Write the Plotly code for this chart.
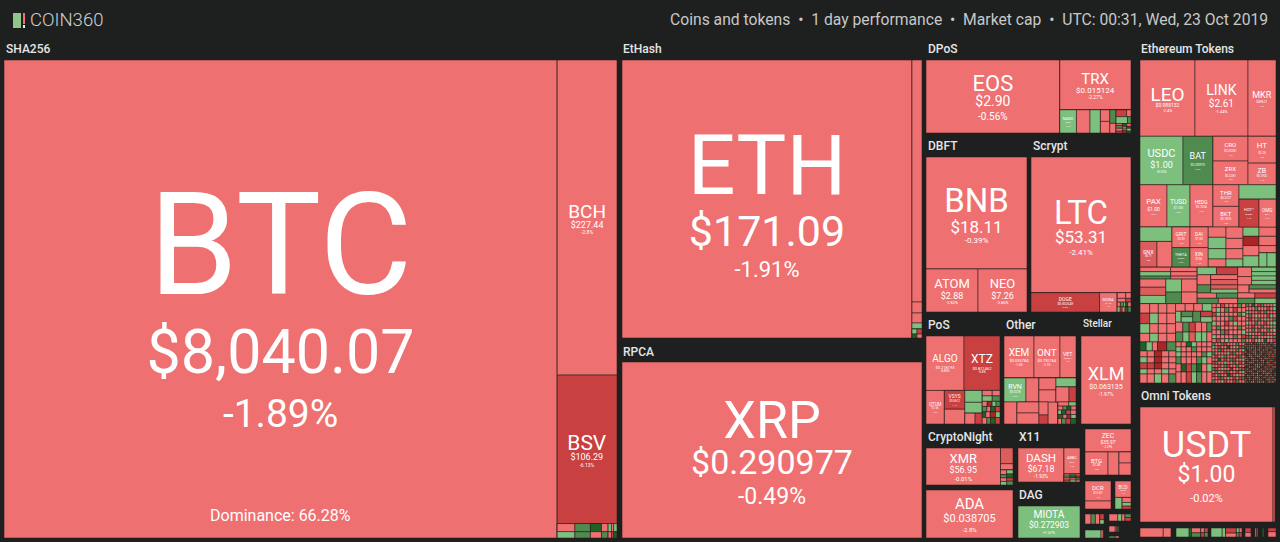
import plotly.graph_objects as go

WIDTH, HEIGHT = 1280, 542
BG = "#1e2020"
COLORS = {
    "r": "#ef7070",
    "m": "#dd5c5c",
    "d": "#c94040",
    "D": "#a82626",
    "g": "#7dc07d",
    "G": "#4f8a4f",
    "K": "#1f6129",
}


def strip(colors, widths, height):
    # one row (or column) of small tiles: colour letters + widths, all one height
    if isinstance(widths, int):
        widths = [widths] * len(colors)
    elif isinstance(widths, str):
        widths = [int(w) for w in widths]
    return [(w * height, c) for w, c in zip(widths, colors)]


# coins that carry a label
coin_names = ["BTC", "BCH", "BSV", "ETH", "XRP", "EOS", "TRX", "NANO", "BNB", "ATOM", "NEO", "LTC", "DOGE", "MONA",
              "ALGO", "XTZ", "QTUM", "VSYS", "XEM", "ONT", "VET", "RVN", "XLM", "XMR", "ADA", "DASH", "ABBC", "MIOTA",
              "ZEC", "BTG", "DCR", "BCD", "LEO", "LINK", "MKR", "USDC", "BAT", "CRO", "ZRX", "HT", "ZB", "PAX", "TUSD",
              "HEDG", "THR", "BKT", "HOT*", "OMG", "SNX", "GRIT", "DAI", "THETA", "XIN", "USDT"]
coin_prices = ["$8,040.07", "$227.44", "$106.29", "$171.09", "$0.290977", "$2.90", "$0.015124", "$0.83", "$18.11",
               "$2.88", "$7.26", "$53.31", "$0.002649", "$1.45", "$0.218193", "$0.821462", "$1.56", "$0.0612",
               "$0.035784", "$0.792764", "$0.0031", "$0.0278", "$0.063135", "$56.95", "$0.038705", "$67.18", "$0.10",
               "$0.272903", "$35.97", "$7.48", "$13.87", "$0.55", "$0.988132", "$2.61", "$498.21", "$1.00",
               "$0.200975", "$0.03281", "$0.2281", "$3.25", "$0.2902", "$1.00", "$1.00", "$0.7034", "$0.3227",
               "$0.1875", "$0.0004", "$0.71", "$0.71", "$0.09", "$1.00", "$0.0896", "$156", "$1.00"]
coin_changes = ["-1.89%", "-2.8%", "-6.13%", "-1.91%", "-0.49%", "-0.56%", "-2.27%", "+1.2%", "-0.39%", "-3.82%",
                "-3.86%", "-2.41%", "-6.2%", "-1.4%", "-4.85%", "-6.8%", "-2.2%", "-7.1%", "-1.4%", "-2.1%", "-1.9%",
                "+2.3%", "-1.97%", "-0.01%", "-2.8%", "-1.93%", "-1.2%", "+1.67%", "-2.29%", "-1.8%", "-1.4%", "-1.6%",
                "-2.4%", "-1.44%", "-1.3%", "+0.05%", "+6.2%", "-1.7%", "-2.2%", "-1.5%", "-1.1%", "-0.4%", "+0.2%",
                "-1.6%", "-1.2%", "-1.9%", "-7.4%", "-2.1%", "-5.8%", "-1.3%", "-0.3%", "+7.3%", "-1.4%", "-0.02%"]

# name, price, change font sizes, then the two baseline gaps
label_fonts = {
    "BTC": (143, 61, 39, 79, 55), "BCH": (19, 9, 5, 11, 6), "BSV": (21, 9, 5, 11, 6), "ETH": (84, 43, 22, 52, 31),
    "XRP": (52, 34, 23, 37, 30), "EOS": (22, 14, 10, 15, 14), "TRX": (15, 8, 5, 9, 7), "NANO": (4, 2, 2, 3, 2),
    "BNB": (33, 17, 8, 21, 11), "ATOM": (13, 9, 4, 9, 5), "NEO": (13, 9, 4, 9, 5), "LTC": (33, 17, 8, 20, 12),
    "DOGE": (6, 4, 3, 4, 4), "MONA": (5, 3, 2, 3, 3), "ALGO": (10, 4, 3, 6, 4), "XTZ": (12, 4, 3, 7, 4),
    "QTUM": (5, 3, 2, 3, 3), "VSYS": (5, 3, 2, 3, 3), "XEM": (10, 4, 3, 6, 4), "ONT": (10, 4, 3, 6, 4),
    "VET": (7, 3, 2, 3, 3), "RVN": (7, 3, 2, 3, 3), "XLM": (18, 7, 5, 9, 5), "XMR": (13, 9, 6, 9, 8),
    "ADA": (15, 11, 6, 10, 9), "DASH": (12, 9, 5, 9, 6), "ABBC": (4, 2, 2, 3, 2), "MIOTA": (11, 9, 4, 8, 6),
    "ZEC": (7, 5, 3, 5, 4), "BTG": (6, 3, 2, 3, 3), "DCR": (6, 3, 2, 3, 3), "BCD": (6, 3, 2, 3, 3),
    "LEO": (19, 5, 4, 7, 5), "LINK": (14, 10, 4, 9, 6), "MKR": (9, 3, 2, 5, 3), "USDC": (11, 9, 3, 8, 5),
    "BAT": (9, 3, 2, 6, 3), "CRO": (6, 3, 2, 5, 3), "ZRX": (6, 3, 2, 5, 3), "HT": (8, 3, 2, 6, 3),
    "ZB": (7, 3, 2, 4, 3), "PAX": (8, 5, 2, 7, 3), "TUSD": (7, 4, 2, 4, 3), "HEDG": (5, 3, 2, 3, 3),
    "THR": (6, 3, 2, 4, 3), "BKT": (6, 3, 2, 4, 3), "HOT*": (4, 2, 2, 3, 2), "OMG": (5, 2, 2, 3, 2),
    "SNX": (6, 3, 2, 4, 3), "GRIT": (5, 3, 2, 3, 3), "DAI": (5, 3, 2, 3, 3), "THETA": (4, 2, 2, 3, 2),
    "XIN": (5, 3, 2, 3, 3), "USDT": (36, 23, 11, 24, 20),
}

# market cap tiles, each nesting level flips the split direction
sha256_tiles = [
    (264334, "r", "BTC"),
    [
        (18840, "r", "BCH"),
        (8880, "d", "BSV"),
        [
            [(144, "r"), (112, "g")],
            [(126, "G"), (98, "G")],
            [(90, "K"), (70, "r")],
            [(54, "r"), (42, "G")],
            [strip("grg", "323", 9), strip("rdK", "323", 7)],
        ],
    ],
]
ethash_tiles = [
    (80620, "r", "ETH"),
    [
        (2420, "r"),
        (110, "r"),
        (100, "r"),
        (60, "g"),
        [[(25, "g"), (20, "K")], [(25, "d"), (20, "r")]],
    ],
]
rpca_tiles = [(52800, "r", "XRP")]
dpos_tiles = [
    (9709, "r", "EOS"),
    [
        (3528, "r", "TRX"),
        [
            (384, "g", "NANO"),
            (312, "r"),
            (240, "g"),
            [(108, "r"), (108, "r")],
            [(84, "G"), (60, "r")],
            [
                [(72, "d"), (30, "r")],
                [(78, "g"), (24, "G")],
                [strip("rGrd", "2332", 6), strip("KrgD", "3223", 4), strip("rDgK", "3232", 4)],
            ],
        ],
    ],
]
dbft_tiles = [[(11312, "r", "BNB"), [(2236, "r", "ATOM"), (2107, "r", "NEO")]]]
scrypt_tiles = [
    [
        (13500, "r", "LTC"),
        [
            (1320, "d", "DOGE"),
            (340, "r", "MONA"),
            [strip("rr", "85", 6), strip("rd", "85", 4), strip("rGgKr", "33223", 5), strip("gdrKG", "32333", 5)],
        ],
    ],
]
pos_tiles = [
    [
        [(2052, "r", "ALGO"), (1944, "d", "XTZ")],
        [
            (612, "r", "QTUM"),
            [(380, "d", "VSYS"), (300, "r")],
            [(204, "g"), (187, "g"), [(110, "r"), (77, "d")]],
            [
                strip("rr", "97", 6),
                strip("gG", "97", 6),
                strip("rDgG", "5544", 5),
                strip("GrKd", "5455", 5),
                strip("KrDg", "4565", 5),
                strip("rGKd", "5455", 6),
            ],
        ],
    ],
]
other_tiles = [
    [
        [(1260, "r", "XEM"), (1092, "r", "ONT"), (672, "r", "VET")],
        [
            [
                [(528, "g", "RVN"), (312, "r")],
                [(286, "r"), [(242, "r"), (242, "r")]],
            ],
            [
                [
                    [(204, "r"), (204, "r")],
                    [(180, "g"), [(195, "r"), (105, "d")]],
                ],
                [
                    [(117, "r"), (81, "d")],
                    (220, "r"),
                    [
                        strip("rg", "96", 5),
                        strip("rGKr", "5445", 4),
                        strip("gKdr", "4556", 4),
                        strip("KrDg", "5445", 4),
                        strip("rGdK", "4556", 5),
                    ],
                ],
            ],
        ],
    ],
]
stellar_tiles = [(4400, "r", "XLM")]
cryptonight_tiles = [
    (2738, "r", "XMR"),
    [
        (195, "m"),
        (78, "r"),
        [[(28, "r"), (20, "G")], [(25, "g"), (25, "K")]],
        [[(22, "r"), (22, "g")], [(20, "d"), (24, "G")]],
    ],
]
cardano_tiles = [(4176, "r", "ADA")]
x11_tiles = [
    (1564, "r", "DASH"),
    [
        (416, "r", "ABBC"),
        [strip("rGrd", "4444", 3), strip("GKrg", "4444", 3), strip("rDGr", "4444", 2)],
    ],
]
dag_tiles = [(1984, "g", "MIOTA")]
zec_tiles = [
    [
        (1058, "r", "ZEC"),
        [(529, "r", "BTG"), (253, "r"), [(132, "r"), (144, "r")]],
    ],
]
dcr_tiles = [[(520, "r", "DCR"), (208, "r")]]
bcd_tiles = [
    [
        (288, "r", "BCD"),
        [(90, "g"), [(49, "r"), (35, "g"), (28, "d")]],
    ],
]
tiny_a_tiles = [(60, "r"), (44, "G"), (44, "r"), [(24, "d"), (18, "g")]]
tiny_b_tiles = [(70, "r"), (32, "g"), (26, "r"), [(24, "G"), (24, "d")]]
tiny_c_tiles = [(40, "r"), (10, "r"), (8, "d"), (6, "G")]
tiny_d_tiles = [(128, "g"), (18, "r"), (6, "K")]
tiny_e_tiles = [(8, "G"), (5, "r")]

# dense tail of the ethereum tokens, read row by row
eth_tail_a = [
    strip("rrrr", "9888", 10),
    strip("dgrr", "9888", 11),
    strip("grrr", "9888", 10),
    strip("rgrr", "9888", 9),
]
eth_tail_b = [
    strip("rrrg", "9889", 8),
    [(60, "g"), [(60, "G"), (60, "g")], (84, "G"), [(60, "d"), (60, "g")]],
    strip("rGdrrG", "766655", 10),
    strip("Ggmggr", "766655", 10),
]
eth_tail_c = [
    strip("KgrDG", "66599", 9),
    strip("rrDrr", "77777", 6),
    strip("grDrr", "77777", 6),
    strip("ddDrr", "77777", 6),
    strip("grrgr", "77777", 5),
    strip("rrgrG", "77777", 9),
]
eth_tail_d = [
    strip("rrKgrrr", "5555555", 5),
    strip("grrGrrr", "5555555", 5),
    strip("grrrrGg", "5555555", 5),
    strip("GrrrGgr", "5555555", 7),
    strip("rKdGKrg", "5555555", 8),
    strip("rrdgGrr", "5555555", 11),
]
eth_tail_e = [
    strip("rrdrrrGr", 4, 4),
    strip("rgrGrdrr", 4, 5),
    strip("dgrrrrGg", 4, 4),
    strip("rrrrGdrr", 4, 5),
    strip("grrdrgrr", 4, 5),
    strip("rGrrrrGr", 4, 4),
    strip("rrGdrrrg", 4, 5),
    strip("grrrrGrd", 4, 4),
    strip("rdrgrrrG", 4, 4),
]
eth_tail_f = [
    strip("GrKrdGrrrg", 3, 3),
    strip("rrrGrrrdrg", 3, 4),
    strip("grrrdrGrrr", 3, 3),
    strip("rGrgrrrdgr", 3, 4),
    strip("rdrrGrgrrG", 3, 3),
    strip("grrGrrdrgg", 3, 4),
    strip("rrdrrGrrgr", 3, 3),
    strip("rrGrdrrGrg", 3, 4),
    strip("rgrrrGdrrr", 3, 3),
    strip("dGrGrrrgrG", 3, 3),
    strip("rrdrgrKrrd", 3, 4),
]
eth_tail_g = [
    strip("GrrGdrrrGrr", 3, 3),
    strip("grdrrKrgrdG", 3, 3),
    strip("rrGdrrrrGrg", 3, 3),
    strip("GrrrrgdGrrd", 3, 3),
    strip("rdrgGrrrdGr", 3, 3),
    strip("rrKrdrGdrrg", 3, 3),
    strip("dGrrgrrGrdr", 3, 3),
    strip("rrdrGdrrGrr", 3, 3),
    strip("GdrgrrDrrGd", 3, 3),
    strip("rGrrdGrrdrg", 3, 3),
    strip("drGrrKdrgrr", 3, 3),
    strip("rrdGrgrdrdG", 3, 3),
    strip("GrrgdrrdGrr", 3, 3),
]
eth_tail_h = [
    strip("GdGrKdGrdgrGDrGg", 2, 2),
    strip("rGrdrGdGrdgGrDGr", 2, 2),
    strip("DrGgdrKrGDdrGrdK", 2, 2),
    strip("GKrdGrdgDrGrKdGr", 2, 2),
    strip("rDdGrgKdrGdGrgDr", 2, 2),
    strip("KGrdGrdGrKdGrdrG", 2, 2),
    strip("dKgrDGrrDdGKrdrG", 2, 2),
    strip("rGDrrdKGrDgrGdGD", 2, 2),
    strip("GrKdrGrKrgDdGrGK", 2, 2),
    strip("DGrgrKdGdrKgrDdr", 2, 2),
    strip("rGdKDrgGrdDGrrGD", 2, 2),
    strip("KDrGdGrgDKrdGDrr", 2, 2),
    strip("GrKDrgdKrDGrdrGK", 2, 2),
    strip("dGrrDKGrdgrDGrKD", 2, 2),
    strip("rKDGrdgKDrGgrdDG", 2, 2),
    strip("KrGdrDrGrKdgDrKG", 2, 2),
    strip("DGrKdrgGDGrKrdgD", 2, 2),
    strip("rKgDrGdrGDKrgdGr", 2, 2),
    strip("GdKrgDGrdgKDrGrK", 2, 2),
]
eth_tiles = [
    [
        [(4070, "r", "LEO"), (3922, "r", "LINK"), (2072, "r", "MKR")],
        [
            (2021, "g", "USDC"),
            (1410, "G", "BAT"),
            [(840, "r", "CRO"), (805, "r", "ZRX")],
            [(728, "r", "HT"), (588, "r", "ZB")],
        ],
        [
            (1107, "r", "PAX"),
            (943, "g", "TUSD"),
            (943, "r", "HEDG"),
            [(546, "r", "THR"), (520, "r", "BKT")],
            [(518, "g"), [(540, "d", "HOT*"), (459, "r", "OMG")]],
        ],
        [
            [(448, "g"), [(425, "m", "SNX"), (375, "r")]],
            [
                [(360, "r", "GRIT"), (360, "r", "DAI")],
                [(342, "G", "THETA"), (342, "r", "XIN")],
            ],
            [(180, "r"), (198, "g"), (180, "g"), (144, "r")],
            [(187, "r"), (170, "r"), (170, "r"), (136, "g")],
            [(144, "g"), (144, "D"), (160, "r"), (176, "g")],
            [(153, "r"), (153, "r"), (119, "r"), [(112, "g"), (126, "g")]],
        ],
        [
            [
                [strip("rgG", "664", 22), strip("rrr", "664", 19)],
                [strip("rmg", "333", 19 * 3.6), strip("gG", "98", 11 * 2), strip("rr", "98", 11 * 2)],
            ],
            [
                [
                    [[(140, "g"), (154, "d")], [(133, "r"), [(126, "r"), (140, "m")]],
                     [(105, "G"), [(112, "m"), (98, "g")]], [(100, "r"), (110, "G")], [(110, "G"), (100, "r")]],
                    [
                        [strip("rr", "98", 7 * 2), strip("gggg", 8, 13)],
                        [(90, "r"), [(112, "G"), (98, "r")]],
                        [(90, "r"), (110, "d")],
                        [(90, "G"), (110, "g")],
                    ],
                ],
            ],
        ],
        [
            [
                [eth_tail_a, eth_tail_b],
                [eth_tail_c, eth_tail_d],
            ],
            [
                [eth_tail_e, eth_tail_f],
                [eth_tail_g, eth_tail_h],
            ],
        ],
    ],
]
omni_tiles = [(15525, "r", "USDT"), (230, "m")]
omni_a_tiles = [(216, "r"), (72, "r")]
omni_b_tiles = [(110, "g"), (20, "K"), [(42, "r"), (36, "G")], [strip("rd", "33", 5), strip("dG", "33", 5)]]
omni_c_tiles = [(120, "g"), (36, "g"), [(66, "d"), (50, "r")], [strip("gr", "33", 5), strip("Gd", "33", 5)]]
omni_d_tiles = [[(24, "d"), (24, "r")]]
omni_e_tiles = [(10, "r"), (8, "d")]
omni_f_tiles = [(10, "K"), (6, "G")]
omni_g_tiles = [[(30, "d"), (42, "r")]]

# panel corners in pixels: x0, y0, x1, y1
panels = [
    (sha256_tiles, (4, 60, 617, 538)),
    (ethash_tiles, (622, 60, 922, 338)),
    (rpca_tiles, (622, 362, 922, 538)),
    (dpos_tiles, (926, 60, 1131, 133)),
    (dbft_tiles, (926, 157, 1027, 312)),
    (scrypt_tiles, (1031, 157, 1131, 312)),
    (pos_tiles, (926, 336, 1000, 424)),
    (other_tiles, (1004, 336, 1076, 424)),
    (stellar_tiles, (1081, 336, 1131, 424)),
    (cryptonight_tiles, (926, 448, 1013, 485)),
    (cardano_tiles, (926, 490, 1013, 538)),
    (x11_tiles, (1018, 448, 1080, 482)),
    (dag_tiles, (1018, 506, 1080, 538)),
    (zec_tiles, (1085, 429, 1131, 475)),
    (dcr_tiles, (1085, 481, 1111, 509)),
    (bcd_tiles, (1115, 481, 1131, 509)),
    (tiny_a_tiles, (1085, 514, 1104, 524)),
    (tiny_b_tiles, (1109, 514, 1131, 521)),
    (tiny_c_tiles, (1109, 526, 1119, 532)),
    (tiny_d_tiles, (1085, 530, 1104, 538)),
    (tiny_e_tiles, (1109, 536, 1119, 538)),
    (eth_tiles, (1140, 60, 1276, 383)),
    (omni_tiles, (1140, 407, 1275, 522)),
    (omni_a_tiles, (1140, 528, 1171, 537)),
    (omni_b_tiles, (1176, 528, 1208, 537)),
    (omni_c_tiles, (1211, 528, 1242, 537)),
    (omni_d_tiles, (1245, 528, 1251, 537)),
    (omni_e_tiles, (1255, 528, 1258, 537)),
    (omni_f_tiles, (1262, 528, 1264, 537)),
    (omni_g_tiles, (1268, 528, 1276, 537)),
]

# group captions: text, x, y, size
captions = [
    ("SHA256", 4, 49, 12), ("EtHash", 621, 49, 12), ("RPCA", 621, 352, 12), ("DPoS", 926, 49, 12),
    ("Ethereum Tokens", 1139, 49, 12), ("DBFT", 926, 146, 12), ("Scrypt", 1031, 146, 12), ("PoS", 926, 325, 12),
    ("Other", 1004, 325, 12), ("Stellar", 1081, 323, 10), ("CryptoNight", 926, 437, 12), ("X11", 1017, 437, 12),
    ("DAG", 1017, 495, 12), ("Omni Tokens", 1139, 396, 12),
]

# blank lines of this height set the gap between the three label lines
LINE_PX = 1.3


def px(x):
    return x / WIDTH


def py(y):
    return 1 - y / HEIGHT


def label_text(name):
    i = coin_names.index(name)
    s1, s2, s3, g1, g2 = label_fonts[name]
    # keep lines from touching on the small tiles
    g1 = max(g1, s2 + 1.5)
    g2 = max(g2, s3 + 1.5)
    return (
        f'<span style="font-size:{s1}px">{name}</span>' + "<br>" * round(g1 / LINE_PX)
        + f'<span style="font-size:{s2}px">{coin_prices[i]}</span>' + "<br>" * round(g2 / LINE_PX)
        + f'<span style="font-size:{s3}px">{coin_changes[i]}</span>'
    )


def flatten(tiles, parent, rows):
    for node in tiles:
        node_id = f"{parent}.{len(rows)}"
        if isinstance(node, list):
            rows.append((node_id, parent, 0, BG, ""))
            flatten(node, node_id, rows)
        else:
            text = label_text(node[2]) if len(node) > 2 else ""
            rows.append((node_id, parent, node[0], COLORS[node[1]], text))


fig = go.Figure()
for tiles, (x0, y0, x1, y1) in panels:
    rows = [("root", "", 0, BG, "")]
    flatten(tiles, "root", rows)
    fig.add_trace(
        go.Treemap(
            ids=[r[0] for r in rows],
            labels=[r[0] for r in rows],
            parents=[r[1] for r in rows],
            values=[r[2] for r in rows],
            text=[r[4] for r in rows],
            textinfo="text",
            textposition="middle center",
            textfont=dict(family="Roboto", color="white", size=1),
            branchvalues="remainder",
            sort=False,
            hoverinfo="skip",
            tiling=dict(packing="slice-dice", pad=0),
            pathbar=dict(visible=False),
            marker=dict(
                colors=[r[3] for r in rows],
                line=dict(color="rgba(40,30,30,0.55)", width=1),
                pad=dict(t=0, l=0, r=0, b=0),
                depthfade=False,
            ),
            domain=dict(x=[px(x0), px(x1)], y=[py(y1), py(y0)]),
        )
    )

annotations = [
    dict(text=t, x=px(x), y=py(y), xref="paper", yref="paper", xanchor="left", yanchor="middle", showarrow=False,
         font=dict(family="Roboto", size=s, color="#e6e6e6", weight=500))
    for t, x, y, s in captions
]
annotations.append(
    dict(text="Dominance: 66.28%", x=px(280), y=py(515), xref="paper", yref="paper", xanchor="center",
         yanchor="middle", showarrow=False, font=dict(family="Roboto", size=16, color="white"))
)
annotations.append(
    dict(text="COIN360", x=px(28), y=py(20), xref="paper", yref="paper", xanchor="left", yanchor="middle",
         showarrow=False, font=dict(family="Roboto", size=18.5, color="#cfcfcf", weight=300))
)
annotations.append(
    dict(text="Coins and tokens  •  1 day performance  •  Market cap  •  UTC: 00:31, Wed, 23 Oct 2019",
         x=px(1270), y=py(20), xref="paper", yref="paper", xanchor="right", yanchor="middle", showarrow=False,
         font=dict(family="Roboto", size=15.7, color="#c8c8c8"))
)

# logo blocks
logo = [(13, 13, 21, 28, "#8fc78a"), (23, 13, 25, 24, "#ef7070"), (23, 25, 25, 28, "#e8e8e8")]
shapes = [
    dict(type="rect", xref="paper", yref="paper", x0=px(a), x1=px(c), y0=py(b), y1=py(d), fillcolor=col, line_width=0)
    for a, b, c, d, col in logo
]

fig.update_layout(
    width=WIDTH,
    height=HEIGHT,
    margin=dict(l=0, r=0, t=0, b=0),
    paper_bgcolor=BG,
    annotations=annotations,
    shapes=shapes,
    showlegend=False,
)
fig.write_html(
    "out.html",
    config={"displayModeBar": False},
    post_script="document.body.style.margin='0';document.body.style.background='#1e2020';",
)
